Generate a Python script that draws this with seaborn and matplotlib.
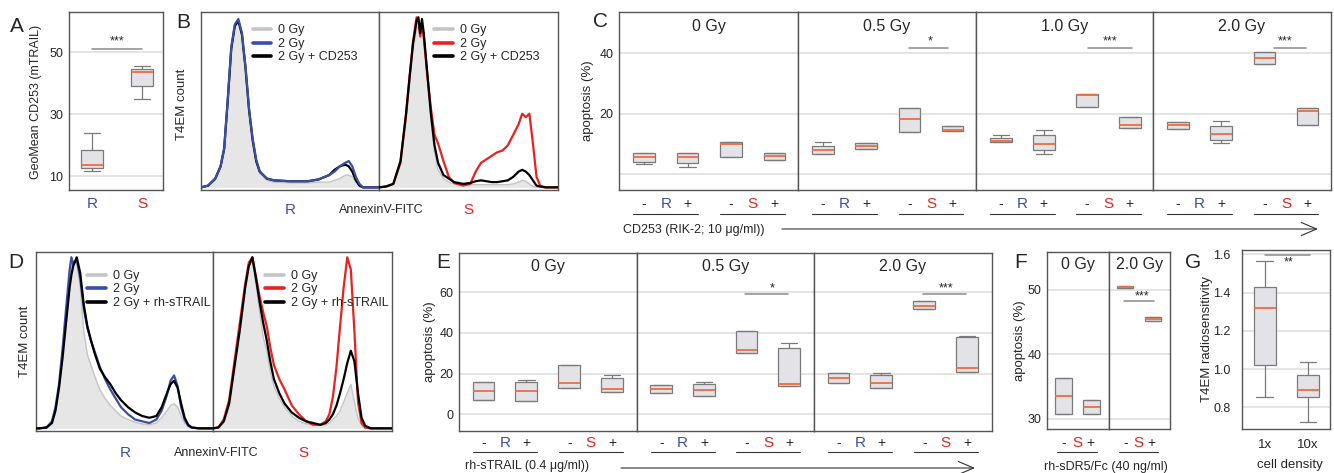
import numpy as np
import pandas as pd
import matplotlib
matplotlib.use("Agg")
import matplotlib.pyplot as plt
import seaborn as sns

# ------------------------------------------------------------------ data
# five-number summaries: [low whisker, Q1, median, Q3, high whisker]
A_groups = ["R", "S"]
A_R = [11.5, 12.5, 13.5, 18.5, 24.0]
A_S = [35.0, 39.0, 43.5, 44.5, 45.5]

# Panel B histograms (AnnexinV-FITC, fraction of axis) ----------------
B_R_x = [0.00, 0.04, 0.08, 0.11, 0.13, 0.15, 0.17, 0.19, 0.21, 0.23, 0.25, 0.27, 0.29, 0.31, 0.33,
         0.37, 0.41, 0.50, 0.60, 0.66, 0.72, 0.75, 0.78, 0.81, 0.83, 0.85, 0.87, 0.89, 0.91, 0.95, 1.00]
B_R_0Gy = [0.00, 0.01, 0.04, 0.11, 0.20, 0.47, 0.78, 0.92, 0.95, 0.87, 0.67, 0.43, 0.26, 0.14, 0.08,
           0.04, 0.03, 0.025, 0.025, 0.03, 0.03, 0.04, 0.05, 0.07, 0.07, 0.06, 0.03, 0.01, 0.00, 0.00, 0.00]
B_R_2Gy = [0.00, 0.01, 0.05, 0.12, 0.22, 0.50, 0.80, 0.93, 0.96, 0.88, 0.69, 0.45, 0.28, 0.16, 0.09,
           0.05, 0.04, 0.035, 0.035, 0.045, 0.07, 0.09, 0.12, 0.14, 0.15, 0.12, 0.06, 0.02, 0.00, 0.00, 0.00]
B_R_2GyT = [0.00, 0.01, 0.05, 0.12, 0.22, 0.49, 0.79, 0.92, 0.95, 0.87, 0.68, 0.44, 0.27, 0.15, 0.09,
            0.05, 0.04, 0.035, 0.035, 0.045, 0.07, 0.10, 0.12, 0.13, 0.12, 0.09, 0.04, 0.01, 0.00, 0.00, 0.00]

B_S_x = [0.00, 0.04, 0.08, 0.12, 0.15, 0.17, 0.19, 0.21, 0.22, 0.23, 0.24, 0.25, 0.27, 0.29, 0.31, 0.33,
         0.36, 0.39, 0.42, 0.47, 0.51, 0.54, 0.57, 0.60, 0.63, 0.66, 0.69, 0.72, 0.75, 0.78, 0.80, 0.82,
         0.84, 0.86, 0.88, 0.90, 0.93, 1.00]
B_S_0Gy = [0.0, 0.005, 0.02, 0.13, 0.38, 0.58, 0.78, 0.90, 0.92, 0.86, 0.90, 0.84, 0.60, 0.38, 0.20, 0.10,
           0.05, 0.03, 0.02, 0.015, 0.015, 0.015, 0.015, 0.015, 0.015, 0.015, 0.015, 0.015, 0.02, 0.03, 0.04,
           0.035, 0.02, 0.005, 0.0, 0.0, 0.0, 0.0]
B_S_2Gy = [0.0, 0.005, 0.02, 0.14, 0.40, 0.62, 0.83, 0.97, 0.95, 0.86, 0.93, 0.86, 0.64, 0.45, 0.30, 0.25,
           0.15, 0.06, 0.025, 0.01, 0.02, 0.09, 0.14, 0.16, 0.18, 0.20, 0.21, 0.24, 0.30, 0.36, 0.42,
           0.40, 0.42, 0.25, 0.06, 0.01, 0.0, 0.0]
B_S_2GyT = [0.0, 0.005, 0.02, 0.15, 0.41, 0.62, 0.82, 0.95, 0.97, 0.88, 0.96, 0.88, 0.65, 0.42, 0.24, 0.14,
            0.07, 0.05, 0.03, 0.02, 0.025, 0.035, 0.04, 0.035, 0.03, 0.03, 0.035, 0.04, 0.06, 0.09, 0.10,
            0.09, 0.07, 0.04, 0.01, 0.005, 0.0, 0.0]

# Panel C: apoptosis (%) with CD253 blocking ----------------------------
C_doses = ["0 Gy", "0.5 Gy", "1.0 Gy", "2.0 Gy"]
C_groups = ["R-", "R+", "S-", "S+"]
C_0Gy = [[3.3, 4.1, 5.8, 6.9, 6.9], [2.4, 3.8, 5.8, 6.9, 6.9],
         [5.6, 5.6, 10.0, 10.6, 10.6], [4.6, 4.6, 6.1, 6.8, 6.8]]
C_05Gy = [[6.7, 6.7, 7.8, 9.4, 10.6], [8.3, 8.3, 9.4, 10.2, 10.2],
          [13.8, 13.8, 18.2, 21.9, 21.9], [14.4, 14.4, 14.7, 15.8, 15.8]]
C_10Gy = [[10.6, 10.6, 11.1, 11.9, 12.8], [6.7, 7.9, 10.0, 12.8, 14.7],
          [22.1, 22.1, 26.1, 26.6, 26.6], [15.4, 15.4, 16.4, 18.8, 18.8]]
C_20Gy = [[15.0, 15.0, 16.2, 17.1, 17.1], [10.4, 11.3, 13.3, 15.9, 17.7],
          [36.6, 36.6, 38.4, 40.4, 40.4], [16.2, 16.2, 21.0, 21.9, 21.9]]
C_sig = ["", "*", "***", "***"]

# Panel D histograms ---------------------------------------------------
D_R_x = [0.00, 0.02, 0.06, 0.09, 0.11, 0.13, 0.15, 0.17, 0.19, 0.20, 0.21, 0.23, 0.25, 0.27, 0.29, 0.31,
         0.33, 0.36, 0.39, 0.42, 0.45, 0.48, 0.52, 0.56, 0.60, 0.64, 0.68, 0.71, 0.74, 0.76, 0.78, 0.80,
         0.82, 0.84, 0.86, 0.88, 0.92, 1.00]
D_R_0Gy = [0.0, 0.0, 0.005, 0.03, 0.10, 0.22, 0.40, 0.62, 0.85, 0.93, 0.95, 0.94, 0.80, 0.55, 0.42, 0.36,
           0.30, 0.22, 0.17, 0.13, 0.10, 0.07, 0.05, 0.035, 0.025, 0.02, 0.03, 0.06, 0.10, 0.13, 0.14, 0.12,
           0.07, 0.03, 0.01, 0.0, 0.0, 0.0]
D_R_2Gy = [0.0, 0.0, 0.005, 0.04, 0.12, 0.25, 0.45, 0.68, 0.90, 0.97, 0.93, 0.96, 0.85, 0.68, 0.57, 0.50,
           0.44, 0.35, 0.28, 0.22, 0.17, 0.12, 0.08, 0.05, 0.04, 0.03, 0.05, 0.10, 0.19, 0.27, 0.30, 0.24,
           0.12, 0.05, 0.015, 0.005, 0.0, 0.0]
D_R_2GyT = [0.0, 0.0, 0.005, 0.03, 0.10, 0.23, 0.40, 0.60, 0.80, 0.87, 0.92, 0.97, 0.88, 0.70, 0.58, 0.50,
            0.43, 0.34, 0.29, 0.25, 0.20, 0.16, 0.12, 0.09, 0.07, 0.06, 0.07, 0.12, 0.20, 0.25, 0.27, 0.23,
            0.14, 0.06, 0.02, 0.005, 0.0, 0.0]

D_S_x = [0.00, 0.03, 0.06, 0.09, 0.12, 0.15, 0.18, 0.20, 0.22, 0.24, 0.26, 0.28, 0.30, 0.32, 0.34, 0.37,
         0.40, 0.44, 0.48, 0.52, 0.56, 0.60, 0.63, 0.65, 0.67, 0.69, 0.71, 0.73, 0.75, 0.77, 0.79, 0.81,
         0.83, 0.85, 0.88, 0.92, 1.00]
D_S_0Gy = [0.0, 0.0, 0.03, 0.12, 0.32, 0.55, 0.80, 0.92, 0.95, 0.82, 0.66, 0.52, 0.44, 0.32, 0.24, 0.17,
           0.12, 0.07, 0.04, 0.025, 0.02, 0.015, 0.02, 0.03, 0.05, 0.07, 0.10, 0.15, 0.20, 0.25, 0.15, 0.06,
           0.015, 0.0, 0.0, 0.0, 0.0]
D_S_2Gy = [0.0, 0.005, 0.05, 0.16, 0.38, 0.60, 0.82, 0.94, 0.97, 0.86, 0.75, 0.66, 0.58, 0.46, 0.36, 0.28,
           0.22, 0.13, 0.08, 0.04, 0.02, 0.02, 0.04, 0.08, 0.18, 0.35, 0.58, 0.80, 0.97, 0.90, 0.55, 0.15,
           0.03, 0.005, 0.0, 0.0, 0.0]
D_S_2GyT = [0.0, 0.005, 0.04, 0.14, 0.35, 0.56, 0.80, 0.92, 0.97, 0.85, 0.72, 0.60, 0.50, 0.38, 0.28, 0.20,
            0.14, 0.09, 0.06, 0.04, 0.03, 0.02, 0.03, 0.05, 0.08, 0.13, 0.20, 0.28, 0.37, 0.44, 0.38, 0.20,
            0.06, 0.015, 0.0, 0.0, 0.0]

# Panel E: apoptosis (%) with rh-sTRAIL --------------------------------
E_doses = ["0 Gy", "0.5 Gy", "2.0 Gy"]
E_0Gy = [[7.2, 7.2, 11.5, 15.9, 15.9], [6.6, 6.6, 11.5, 16.1, 17.0],
         [13.1, 13.1, 15.4, 24.3, 24.3], [11.0, 11.0, 12.3, 18.0, 19.2]]
E_05Gy = [[10.7, 10.7, 12.6, 14.4, 14.4], [9.0, 9.0, 11.8, 15.1, 15.9],
          [30.0, 30.0, 31.5, 40.8, 40.8], [13.8, 13.8, 15.1, 32.8, 35.2]]
E_20Gy = [[15.4, 15.4, 18.0, 20.5, 20.5], [13.1, 13.1, 15.6, 19.2, 20.3],
          [52.0, 52.0, 53.1, 55.9, 55.9], [20.8, 20.8, 23.0, 38.0, 38.7]]
E_sig = ["", "*", "***"]

# Panel F: apoptosis (%) with rh-sDR5/Fc -------------------------------
F_doses = ["0 Gy", "2.0 Gy"]
F_groups = ["S-", "S+"]
F_0Gy = [[30.7, 30.7, 33.5, 36.3, 36.3], [30.8, 30.8, 31.9, 32.9, 32.9]]
F_20Gy = [[50.2, 50.2, 50.4, 50.6, 50.6], [45.1, 45.1, 45.4, 45.8, 45.8]]

# Panel G: radiosensitivity vs cell density ----------------------------
G_groups = ["1x", "10x"]
G_1x = [0.852, 1.023, 1.322, 1.431, 1.567]
G_10x = [0.722, 0.854, 0.892, 0.970, 1.037]

# ------------------------------------------------------------------ style
sns.set_style("white")
plt.rcParams["font.family"] = ["Liberation Sans", "DejaVu Sans"]

BLUE = "#3b4ea5"
RED = "#e8231f"
BOX_FILL = "#e3e3e7"
BOX_EDGE = "#7a7a7a"
MED = "#f26b3f"
GRID = "#e4e4e4"
FRAME = "#555555"
SIGC = "#8a8a8a"
FILL_GREY = "#e6e6e6"
LINE_GREY = "#c4c4c4"

W, H = 1334, 473
fig = plt.figure(figsize=(W / 100, H / 100), dpi=100)


def add_ax(x0, y0, x1, y1):
    return fig.add_axes([x0 / W, 1 - y1 / H, (x1 - x0) / W, (y1 - y0) / H])


def ftext(x, y, s, **kw):
    kw.setdefault("ha", "center")
    kw.setdefault("va", "center")
    fig.text(x / W, 1 - y / H, s, **kw)


def frame(ax):
    for sp in ax.spines.values():
        sp.set_visible(True)
        sp.set_color(FRAME)
        sp.set_linewidth(1.0)


def box_axes(ax, groups, stats, width):
    df = pd.DataFrame({"group": np.repeat(groups, [len(s) for s in stats]),
                       "value": np.concatenate(stats)})
    sns.boxplot(data=df, x="group", y="value", order=groups, ax=ax, width=width,
                whis=(0, 100), showfliers=False, color=BOX_FILL, saturation=1,
                linecolor=BOX_EDGE, linewidth=0.9, capwidths=0.75 * width,
                medianprops=dict(color=MED, linewidth=1.3))
    ax.set_xlabel("")
    ax.set_ylabel("")
    ax.set_xticks([])
    ax.yaxis.grid(True, color=GRID, lw=1.4)
    ax.set_axisbelow(True)
    ax.tick_params(axis="y", length=0, labelsize=9, pad=4)
    frame(ax)


def sig(ax, x0, x1, y, xs, ys, stars):
    sns.lineplot(x=[x0, x1], y=[y, y], ax=ax, color=SIGC, lw=1.1)
    ax.text(xs, ys, stars, ha="center", va="center", fontsize=9)


def group_labels(ax, letters, centers, ylab, yline, pairs):
    tr = ax.get_xaxis_transform()
    for (a, b), let, c in zip(pairs, letters, centers):
        ax.text(a, ylab, "-", transform=tr, ha="center", va="center", fontsize=10)
        ax.text(b, ylab, "+", transform=tr, ha="center", va="center", fontsize=10)
        ax.text(c, ylab, let, transform=tr, ha="center", va="center", fontsize=11,
                color=BLUE if let == "R" else RED)
        ax.plot([a - 0.25 * (b - a), b + 0.25 * (b - a)], [yline, yline],
                transform=tr, color="#333333", lw=0.8, clip_on=False)


def hist(ax, x, g, c, k, col, labels, col_top):
    ax.fill_between(x, 0, g, color=FILL_GREY, lw=0, zorder=1)
    sns.lineplot(x=x, y=g, ax=ax, color=LINE_GREY, lw=1.0, label=labels[0], zorder=2)
    sns.lineplot(x=x, y=c, ax=ax, color=col, lw=1.6, label=labels[1], zorder=4 if col_top else 3)
    sns.lineplot(x=x, y=k, ax=ax, color="black", lw=1.6, label=labels[2], zorder=3 if col_top else 4)
    ax.set_xlim(0, 1)
    ax.set_ylim(-0.015, 1.0)
    ax.set_xticks([])
    ax.set_yticks([])
    ax.set_xlabel("")
    ax.set_ylabel("")
    frame(ax)


def legend(ax, anchor):
    leg = ax.legend(loc="upper left", bbox_to_anchor=anchor, frameon=False, fontsize=9,
                    handlelength=1.5, handletextpad=0.55, labelspacing=0.12,
                    borderpad=0, borderaxespad=0)
    for ln in leg.get_lines():
        ln.set_linewidth(2.6)


def arrow(x0, x1, y):
    fig.add_artist(matplotlib.patches.FancyArrowPatch(
        (x0 / W, 1 - y / H), (x1 / W, 1 - y / H), transform=fig.transFigure,
        arrowstyle="->,head_length=11,head_width=4.7", mutation_scale=1,
        lw=0.8, color="#333333", shrinkA=0, shrinkB=0))


# ------------------------------------------------------------------ A
axA = add_ax(69, 12, 163, 190)
box_axes(axA, A_groups, [A_R, A_S], 0.45)
sig(axA, 0, 1, 51.1, 0.5, 53.4, "***")
axA.set_xlim(-0.46, 1.42)
axA.set_ylim(5.5, 63)
axA.set_yticks([10, 30, 50])
axA.set_xticks([0, 1], A_groups)
axA.tick_params(axis="x", length=0, labelsize=11, pad=5)
for tl, col in zip(axA.get_xticklabels(), [BLUE, RED]):
    tl.set_color(col)
axA.set_ylabel("GeoMean CD253 (mTRAIL)", fontsize=9)
axA.yaxis.set_label_coords(-0.285, 0.495)

# ------------------------------------------------------------------ B
axB1 = add_ax(201, 12, 379, 190)
hist(axB1, B_R_x, B_R_0Gy, B_R_2Gy, B_R_2GyT, BLUE, ["0 Gy", "2 Gy", "2 Gy + CD253"], True)
legend(axB1, (0.29, 0.93))
axB1.set_ylabel("T4EM count", fontsize=9.5)
axB1.yaxis.set_label_coords(-0.073, 0.48)
axB2 = add_ax(379, 12, 558, 190)
hist(axB2, B_S_x, B_S_0Gy, B_S_2Gy, B_S_2GyT, RED, ["0 Gy", "2 Gy", "2 Gy + CD253"], False)
legend(axB2, (0.31, 0.93))
ftext(290, 210, "R", color=BLUE, fontsize=11)
ftext(381, 210, "AnnexinV-FITC", fontsize=9)
ftext(468, 210, "S", color=RED, fontsize=11)

# ------------------------------------------------------------------ C
C_data = [C_0Gy, C_05Gy, C_10Gy, C_20Gy]
C_edges = [619, 798, 976, 1153, 1331]
C_sigpos = [None, (2.0, 2.89, 2.48), (2.02, 3.04, 2.53), (2.21, 2.96, 2.48)]
for i, dose in enumerate(C_doses):
    ax = add_ax(C_edges[i], 12, C_edges[i + 1], 190)
    box_axes(ax, C_groups, C_data[i], 0.5)
    if C_sig[i]:
        a, b, s = C_sigpos[i]
        sig(ax, a, b, 41.7, s, 44.0, C_sig[i])
    ax.set_xlim(-0.576, 3.539)
    ax.set_ylim(-5.3, 53.7)
    ax.set_yticks([0, 20, 40])
    if i == 0:
        ax.set_yticklabels(["", "20", "40"])
        ax.set_ylabel("apoptosis (%)", fontsize=9.5)
        ax.yaxis.set_label_coords(-0.14, 0.5)
    else:
        ax.set_yticklabels([])
    ax.text(0.5, 0.92, dose, transform=ax.transAxes, ha="center", va="center", fontsize=11.5)
    group_labels(ax, ["R", "S"], [0.5, 2.5], -0.079, -0.135, [(0, 1), (2, 3)])
ftext(623, 230, "CD253 (RIK-2; 10 μg/ml))", fontsize=9, ha="left")
arrow(782, 1318, 229)

# ------------------------------------------------------------------ D
axD1 = add_ax(36, 252, 213, 431)
hist(axD1, D_R_x, D_R_0Gy, D_R_2Gy, D_R_2GyT, BLUE, ["0 Gy", "2 Gy", "2 Gy + rh-sTRAIL"], False)
legend(axD1, (0.29, 0.9))
axD1.set_ylabel("T4EM count", fontsize=9.5)
axD1.yaxis.set_label_coords(-0.03, 0.5)
axD2 = add_ax(213, 252, 392, 431)
hist(axD2, D_S_x, D_S_0Gy, D_S_2Gy, D_S_2GyT, RED, ["0 Gy", "2 Gy", "2 Gy + rh-sTRAIL"], False)
legend(axD2, (0.29, 0.9))
ftext(125, 453, "R", color=BLUE, fontsize=11)
ftext(216, 453, "AnnexinV-FITC", fontsize=9)
ftext(303, 453, "S", color=RED, fontsize=11)

# ------------------------------------------------------------------ E
E_data = [E_0Gy, E_05Gy, E_20Gy]
E_edges = [459, 637, 814, 992]
E_sigpos = [None, (1.97, 2.98, 2.61), (1.96, 2.98, 2.5)]
for i, dose in enumerate(E_doses):
    ax = add_ax(E_edges[i], 253, E_edges[i + 1], 431)
    box_axes(ax, C_groups, E_data[i], 0.51)
    if E_sig[i]:
        a, b, s = E_sigpos[i]
        sig(ax, a, b, 59.3, s, 62.0, E_sig[i])
    ax.set_xlim(-0.57, 3.58)
    ax.set_ylim(-8.2, 79.3)
    ax.set_yticks([0, 20, 40, 60])
    if i == 0:
        ax.set_ylabel("apoptosis (%)", fontsize=9.5)
        ax.yaxis.set_label_coords(-0.129, 0.5)
    else:
        ax.set_yticklabels([])
    ax.text(0.5, 0.925, dose, transform=ax.transAxes, ha="center", va="center", fontsize=11.5)
    group_labels(ax, ["R", "S"], [0.5, 2.5], -0.067, -0.118, [(0, 1), (2, 3)])
ftext(465, 466, "rh-sTRAIL (0.4 μg/ml))", fontsize=9, ha="left")
arrow(621, 975, 468)

# ------------------------------------------------------------------ F
F_data = [F_0Gy, F_20Gy]
F_edges = [1047, 1109, 1170]
for i, dose in enumerate(F_doses):
    ax = add_ax(F_edges[i], 252, F_edges[i + 1], 429)
    box_axes(ax, F_groups, F_data[i], 0.59)
    if i == 1:
        sig(ax, -0.02, 1.04, 48.2, 0.6, 49.0, "***")
    ax.set_xlim(-0.565, 1.609)
    ax.set_ylim(28.45, 55.8)
    ax.set_yticks([30, 40, 50])
    if i == 0:
        ax.set_ylabel("apoptosis (%)", fontsize=9.5)
        ax.yaxis.set_label_coords(-0.34, 0.5)
    else:
        ax.set_yticklabels([])
    ax.text(0.5, 0.93, dose, transform=ax.transAxes, ha="center", va="center", fontsize=11.5)
    group_labels(ax, ["S"], [0.5], -0.079, -0.13, [(0.03, 0.95)])
ftext(1106, 467, "rh-sDR5/Fc (40 ng/ml)", fontsize=9)

# ------------------------------------------------------------------ G
axG = add_ax(1242, 250, 1330, 429)
box_axes(axG, G_groups, [G_1x, G_10x], 0.52)
sig(axG, 0.0, 1.05, 1.597, 0.55, 1.557, "**")
axG.set_xlim(-0.53, 1.51)
axG.set_ylim(0.687, 1.623)
axG.set_yticks([0.8, 1.0, 1.2, 1.4, 1.6])
axG.set_yticklabels(["0.8", "1.0", "1.2", "1.4", "1.6"])
axG.tick_params(axis="y", pad=8)
axG.set_xticks([0, 1], G_groups)
axG.tick_params(axis="x", length=0, labelsize=9.5, pad=7)
axG.set_ylabel("T4EM radiosensitivity", fontsize=9.5)
axG.yaxis.set_label_coords(-0.33, 0.5)
ftext(1290, 465, "cell density", fontsize=9.5)

# ------------------------------------------------------------------ panel letters
for s, x, y in [("A", 17, 26), ("B", 183, 22), ("C", 601, 21), ("D", 16, 263),
                ("E", 443, 263), ("F", 1021, 262), ("G", 1193, 262)]:
    ftext(x, y, s, fontsize=15)

fig.savefig("out.png", dpi=100)
